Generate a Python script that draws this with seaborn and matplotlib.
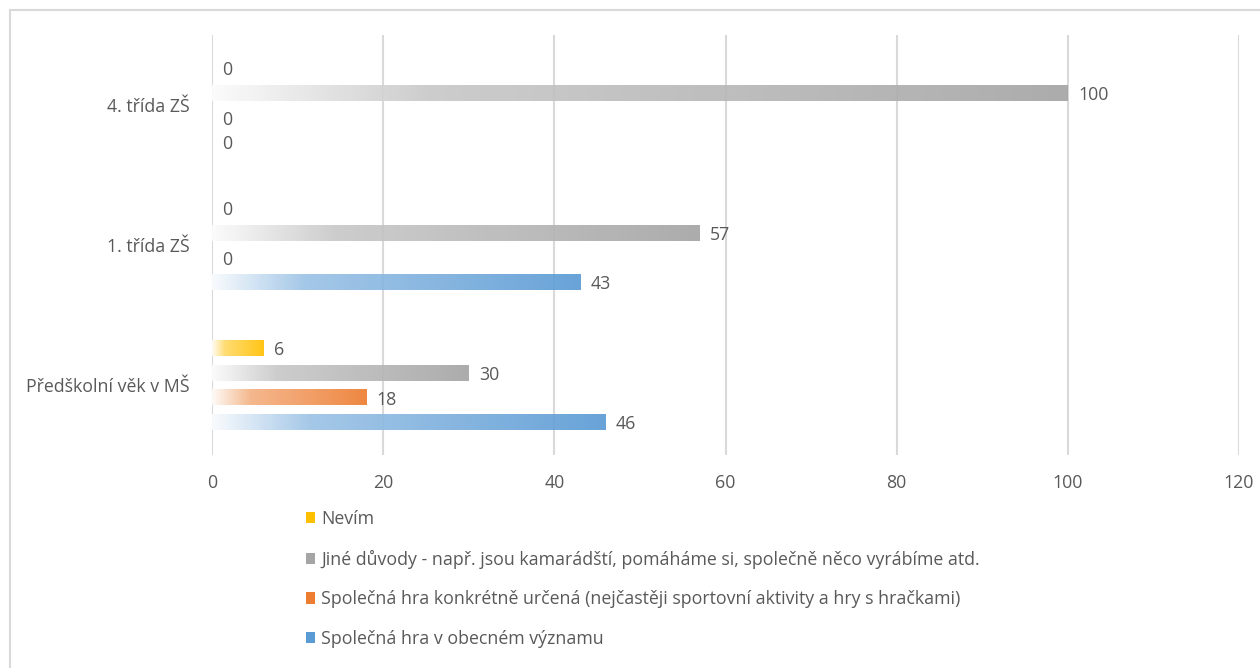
import numpy as np
import pandas as pd
import seaborn as sns
import matplotlib.pyplot as plt
from matplotlib.patches import Patch, Rectangle
from matplotlib.colors import to_rgb

# === Data ===
groups = ['4. třída ZŠ', '1. třída ZŠ', 'Předškolní věk v MŠ']
series = ['Nevím',
          'Jiné důvody - např. jsou kamarádští, pomáháme si, společně něco vyrábíme atd.',
          'Společná hra konkrétně určená (nejčastěji sportovní aktivity a hry s hračkami)',
          'Společná hra v obecném významu']
nevim = [0, 0, 6]
jine = [100, 57, 30]
konkretne = [0, 0, 18]
obecne = [0, 43, 46]
colors = ['#FFC000', '#A5A5A5', '#ED7D31', '#5B9BD5']
xticks = [0, 20, 40, 60, 80, 100, 120]

rows = []
for name, vals in zip(series, [nevim, jine, konkretne, obecne]):
    for g, v in zip(groups, vals):
        rows.append({'skupina': g, 'duvod': name, 'procento': v})
df = pd.DataFrame(rows)

sns.set_theme(style='white')
plt.rcParams['font.family'] = ['Open Sans', 'DejaVu Sans']
txt = '#595959'
fs = 12.8

fig = plt.figure(figsize=(12.6, 6.68), dpi=100)
ax = fig.add_axes([212 / 1260, 1 - 455 / 668, (1239 - 212) / 1260, 420 / 668])

sns.barplot(data=df, y='skupina', x='procento', hue='duvod', order=groups,
            hue_order=series, palette=colors, orient='h', width=0.71, gap=0.36,
            ax=ax, legend=False)

ax.set_xlim(0, 120)
ax.set_ylim(2.5, -0.5)
ax.set_xticks(xticks)
ax.xaxis.grid(True, color='#D9D9D9', linewidth=1.5)
ax.set_axisbelow(True)
for s in ax.spines.values():
    s.set_visible(False)
ax.set_xlabel('')
ax.set_ylabel('')
ax.tick_params(axis='x', labelsize=fs, labelcolor=txt, length=0, pad=14)
ax.tick_params(axis='y', labelsize=fs, labelcolor=txt, length=0, pad=16)

# gradient fills + value labels
def ramp(t):
    return np.where(t < 0.25, 0.04 + (0.6 - 0.04) * (t / 0.25),
                    0.6 + 0.4 * (t - 0.25) / 0.75)

for cont, col in zip(ax.containers, colors):
    base = np.array(to_rgb(col))
    for patch in cont:
        x0, y0 = patch.get_x(), patch.get_y()
        w, h = patch.get_width(), patch.get_height()
        if w > 0:
            t = np.linspace(0, 1, 256)
            m = ramp(t)[:, None]
            img = (1 - m) + m * base
            ax.imshow(img[None, :, :], extent=[x0, x0 + w, y0 + h, y0],
                      aspect='auto', alpha=0.92, zorder=2, interpolation='bilinear')
        patch.set_visible(False)
        ax.annotate(f'{w:.0f}', (x0 + w, y0 + h / 2), xytext=(7.5, -1.5),
                    textcoords='offset points', ha='left', va='center',
                    fontsize=fs, color=txt)

ax.set_xlim(0, 120)
ax.set_ylim(2.5, -0.5)

handles = [Patch(facecolor=c, edgecolor='none') for c in colors]
fig.legend(handles, series, loc='upper left', bbox_to_anchor=(290 / 1260, 1 - 494 / 668),
           frameon=False, fontsize=fs, labelcolor=txt, handlelength=0.5,
           handleheight=0.6, handletextpad=0.35, labelspacing=1.22)

fig.patches.append(Rectangle((10 / 1260, -0.01), 1.02, 1 - 10 / 668 + 0.01,
                             transform=fig.transFigure, fill=False,
                             edgecolor='#D9D9D9', linewidth=1.5))

plt.savefig('out.png', dpi=100)
